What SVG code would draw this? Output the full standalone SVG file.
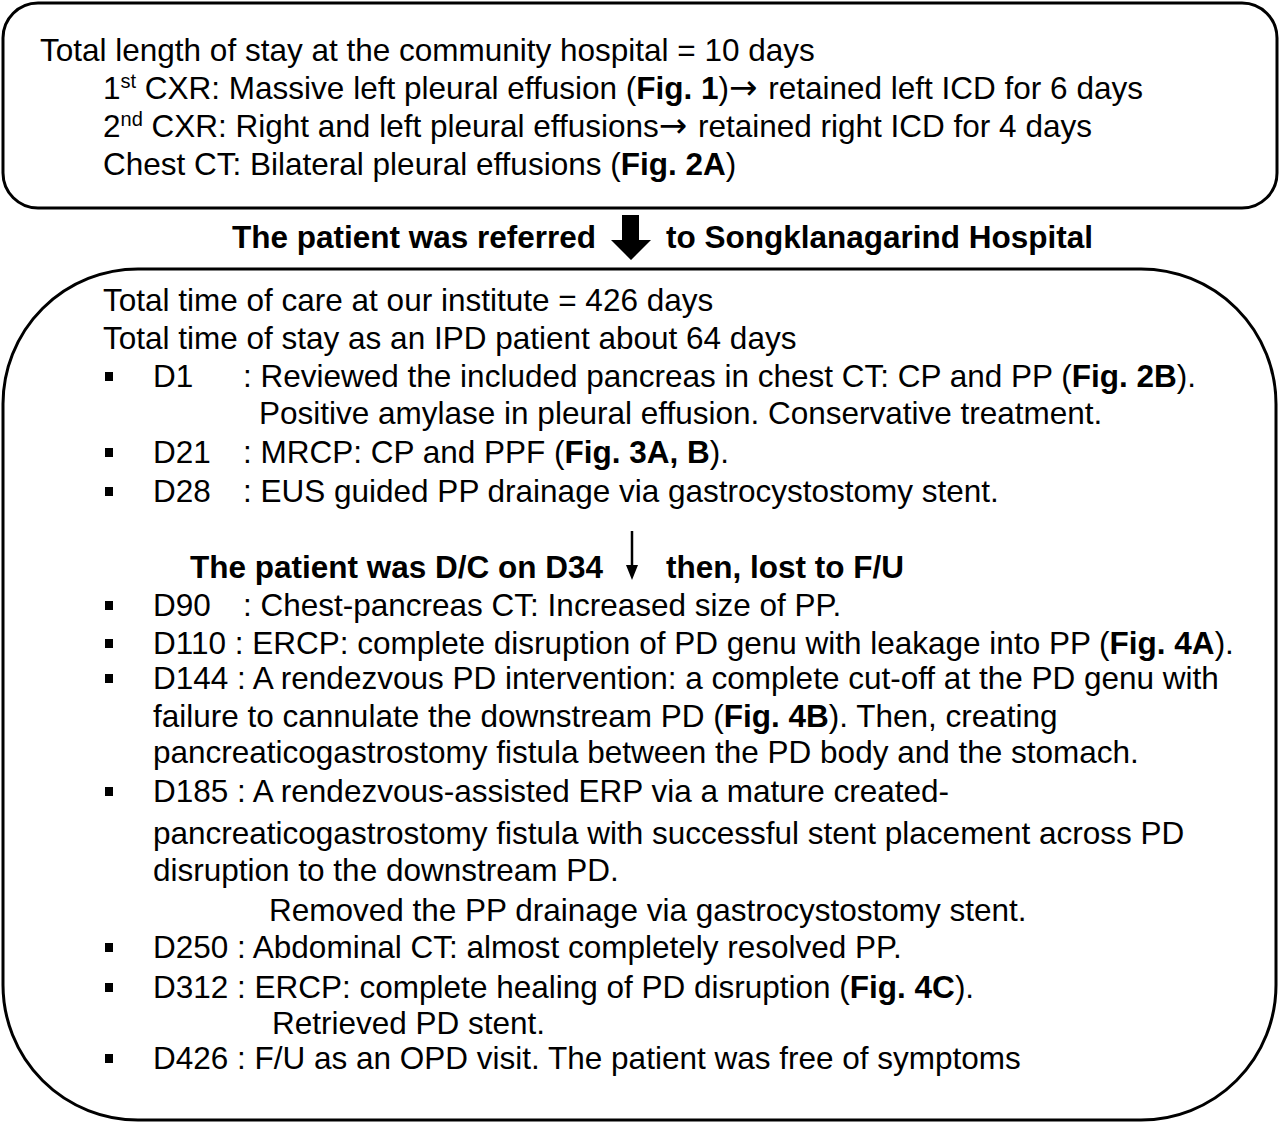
<svg xmlns="http://www.w3.org/2000/svg" width="1280" height="1124" viewBox="0 0 1280 1124">
<style>
  text { font-family: "Liberation Sans", Arial, sans-serif; font-size: 31.5px; fill: #000; }
  .b { font-weight: bold; }
  .sup { font-size: 20px; }
  .arr { font-family: "DejaVu Sans", sans-serif; font-size: 34px; }
  .box { fill: #fff; stroke: #000; stroke-width: 3; }
</style>
<defs>
  <rect id="bullet" width="8" height="9" fill="#000"/>
</defs>
<rect width="1280" height="1124" fill="#fff"/>

<g id="community-hospital">
  <rect class="box" x="3" y="3" width="1274" height="205" rx="35" ry="35"/>
  <text x="40" y="61">Total length of stay at the community hospital = 10 days</text>
  <text x="103" y="99">1<tspan class="sup" dy="-11">st</tspan><tspan dy="11"> CXR: Massive left pleural effusion (</tspan><tspan class="b">Fig. 1</tspan>)<tspan class="arr">→</tspan><tspan dx="2"> retained left ICD for 6 days</tspan></text>
  <text x="103" y="137">2<tspan class="sup" dy="-11">nd</tspan><tspan dy="11"> CXR: Right and left pleural effusions</tspan><tspan class="arr">→</tspan><tspan dx="2"> retained right ICD for 4 days</tspan></text>
  <text x="103" y="175">Chest CT: Bilateral pleural effusions (<tspan class="b">Fig. 2A</tspan>)</text>
</g>

<g id="songklanagarind-hospital">
  <rect class="box" x="3" y="269" width="1273" height="851" rx="135" ry="135"/>
  <text x="103" y="311">Total time of care at our institute = 426 days</text>
  <text x="103" y="349">Total time of stay as an IPD patient about 64 days</text>

  <use href="#bullet" x="105" y="372"/>
  <text x="153" y="387">D1</text>
  <text x="243" y="387">: Reviewed the included pancreas in chest CT: CP and PP (<tspan class="b">Fig. 2B</tspan>).</text>
  <text x="259" y="424">Positive amylase in pleural effusion. Conservative treatment.</text>

  <use href="#bullet" x="105" y="448"/>
  <text x="153" y="463">D21</text>
  <text x="243" y="463">: MRCP: CP and PPF (<tspan class="b">Fig. 3A, B</tspan>).</text>

  <use href="#bullet" x="105" y="487"/>
  <text x="153" y="502">D28</text>
  <text x="243" y="502">: EUS guided PP drainage via gastrocystostomy stent.</text>

  <use href="#bullet" x="105" y="601"/>
  <text x="153" y="616">D90</text>
  <text x="243" y="616">: Chest-pancreas CT: Increased size of PP.</text>

  <use href="#bullet" x="105" y="639"/>
  <text x="153" y="654">D110 : ERCP: complete disruption of PD genu with leakage into PP (<tspan class="b">Fig. 4A</tspan>).</text>

  <use href="#bullet" x="105" y="674"/>
  <text x="153" y="689">D144 : A rendezvous PD intervention: a complete cut-off at the PD genu with</text>
  <text x="153" y="727">failure to cannulate the downstream PD (<tspan class="b">Fig. 4B</tspan>). Then, creating</text>
  <text x="153" y="763">pancreaticogastrostomy fistula between the PD body and the stomach.</text>

  <use href="#bullet" x="105" y="787"/>
  <text x="153" y="802">D185 : A rendezvous-assisted ERP via a mature created-</text>
  <text x="153" y="844">pancreaticogastrostomy fistula with successful stent placement across PD</text>
  <text x="153" y="881">disruption to the downstream PD.</text>
  <text x="269" y="921">Removed the PP drainage via gastrocystostomy stent.</text>

  <use href="#bullet" x="105" y="943"/>
  <text x="153" y="958">D250 : Abdominal CT: almost completely resolved PP.</text>

  <use href="#bullet" x="105" y="983"/>
  <text x="153" y="998">D312 : ERCP: complete healing of PD disruption (<tspan class="b">Fig. 4C</tspan>).</text>
  <text x="272" y="1034">Retrieved PD stent.</text>

  <use href="#bullet" x="105" y="1054"/>
  <text x="153" y="1069">D426 : F/U as an OPD visit. The patient was free of symptoms</text>
</g>

<g id="connectors">
  <g id="referral">
    <text class="b" x="232" y="248">The patient was referred</text>
    <polygon points="622,215 639,215 639,240 651,240 631,260 611,240 622,240" fill="#000"/>
    <text class="b" x="666" y="248">to Songklanagarind Hospital</text>
  </g>
  <g id="discharge">
    <text class="b" x="190" y="578">The patient was D/C on D34</text>
    <line x1="632" y1="531" x2="632" y2="568" stroke="#000" stroke-width="2.5"/>
    <polygon points="626,565 638,565 632,580" fill="#000"/>
    <text class="b" x="666" y="578">then, lost to F/U</text>
  </g>
</g>
</svg>
